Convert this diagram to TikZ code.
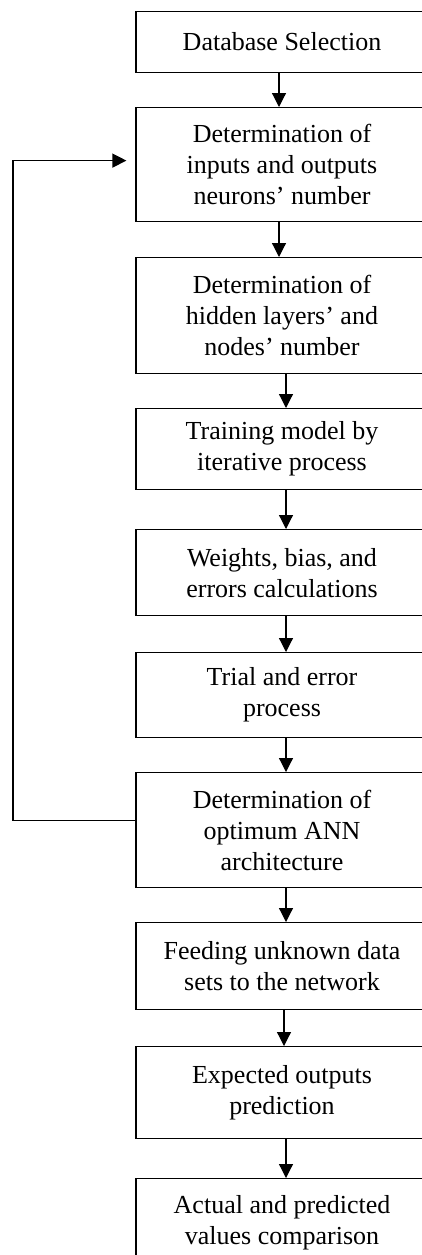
\documentclass[tikz,border=0pt]{standalone}
\usepackage{fontspec}
\setmainfont{Liberation Serif}
\usetikzlibrary{arrows.meta}
\tikzset{
  box/.style={draw, line width=1.2pt, minimum width=292pt, inner sep=0pt, anchor=north, align=center, font=\fontsize{26}{31}\selectfont},
  arr/.style={line width=1.2pt, -{Triangle[width=14pt,length=14pt]}},
  ln/.style={line width=1.2pt}
}
\begin{document}
\begin{tikzpicture}[x=1pt,y=-1pt]
\useasboundingbox (0,0) rectangle (422,1255);
\clip (0,0) rectangle (422,1255);
\node[box, minimum height=61pt] (b1) at (282,11) {Database Selection};
\node[box, minimum height=114pt] (b2) at (282,107) {Determination of\\inputs and outputs\\neurons’ number};
\node[box, minimum height=116pt] (b3) at (282,257) {Determination of\\hidden layers’ and\\nodes’ number};
\node[box, minimum height=81pt] (b4) at (282,408) {Training model by\\iterative process};
\node[box, minimum height=86pt] (b5) at (282,529) {Weights, bias, and\\errors calculations};
\node[box, minimum height=85pt] (b6) at (282,652) {Trial and error\\process};
\node[box, minimum height=115pt] (b7) at (282,772) {Determination of\\optimum ANN\\architecture};
\node[box, minimum height=87pt] (b8) at (282,922) {Feeding unknown data\\sets to the network};
\node[box, minimum height=92pt] (b9) at (282,1046) {Expected outputs\\prediction};
\node[box, minimum height=88pt] (b10) at (282,1178) {Actual and predicted\\values comparison};
\draw[arr] ([xshift=-3pt]b1.south) -- ([xshift=-3pt]b2.north);
\draw[arr] ([xshift=-3pt]b2.south) -- ([xshift=-3pt]b3.north);
\draw[arr] ([xshift=4pt]b3.south) -- ([xshift=4pt]b4.north);
\draw[arr] ([xshift=4pt]b4.south) -- ([xshift=4pt]b5.north);
\draw[arr] ([xshift=4pt]b5.south) -- ([xshift=4pt]b6.north);
\draw[arr] ([xshift=4pt]b6.south) -- ([xshift=4pt]b7.north);
\draw[arr] ([xshift=4pt]b7.south) -- ([xshift=4pt]b8.north);
\draw[arr] ([xshift=2pt]b8.south) -- ([xshift=2pt]b9.north);
\draw[arr] ([xshift=4pt]b9.south) -- ([xshift=4pt]b10.north);
\coordinate (lx) at (13,0);
\coordinate (tipend) at ([xshift=-9pt, yshift=4pt]b2.west);
\draw[arr] ([yshift=9.5pt]b7.west) -| (lx |- tipend) -- (tipend);
\end{tikzpicture}
\end{document}
